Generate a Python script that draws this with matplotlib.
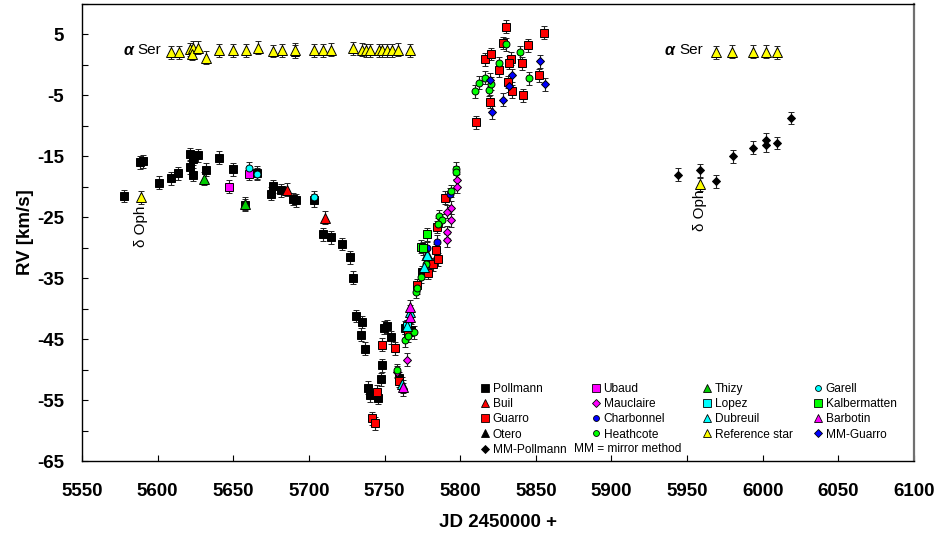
import matplotlib
matplotlib.use("Agg")
import matplotlib.pyplot as plt
from matplotlib.lines import Line2D
from matplotlib.legend import Legend
from matplotlib.ticker import MultipleLocator, FuncFormatter

plt.rcParams['font.family'] = ['Liberation Sans', 'DejaVu Sans']

# ---- data: JD - 2450000 and RV [km/s] per observer ----
pollmann_jd = [5577.8, 5588.4, 5590.6, 5601.0, 5609.0, 5613.8, 5621.1, 5621.5, 5623.3, 5623.1,
               5627.0, 5632.1, 5640.3, 5649.6, 5658.0, 5665.7, 5675.0, 5676.1, 5681.6, 5689.3,
               5691.3, 5703.7, 5709.2, 5714.7, 5721.6, 5727.1, 5729.1, 5731.3, 5734.8, 5734.4,
               5737.0, 5739.0, 5740.3, 5745.9, 5747.4, 5748.1, 5749.6, 5751.8, 5754.0, 5759.5,
               5763.3, 5767.3, 5775.0]
pollmann_rv = [-21.5, -16.0, -15.8, -19.3, -18.6, -17.8, -16.8, -14.6, -15.4, -18.0,
               -14.8, -17.2, -15.2, -17.1, -23.0, -17.7, -21.1, -19.9, -20.6, -22.0,
               -22.2, -22.2, -27.8, -28.3, -29.4, -31.6, -34.9, -41.2, -42.2, -44.3,
               -46.6, -53.0, -54.2, -54.6, -51.6, -49.3, -43.1, -42.9, -44.7, -51.4,
               -43.1, -43.5, -34.0]

buil_jd = [5685.6, 5710.5]
buil_rv = [-20.5, -25.1]

guarro_jd = [5744.8, 5741.4, 5743.4, 5748.5, 5756.7, 5759.5, 5765.5, 5771.7, 5779.0, 5782.3,
             5785.6, 5783.8, 5784.5, 5790.0, 5810.3, 5816.5, 5820.7, 5819.6, 5825.8, 5828.0,
             5830.2, 5833.5, 5832.4, 5831.8, 5834.2, 5840.6, 5844.6, 5841.3, 5852.3, 5855.6]
guarro_rv = [-53.6, -58.0, -58.8, -45.9, -46.5, -51.8, -43.8, -36.1, -34.1, -32.7,
             -31.9, -30.4, -26.6, -21.8, -9.4, 0.9, 1.8, -6.0, -0.9, 3.6,
             6.3, 1.0, 0.4, -2.8, -4.3, 0.3, 3.2, -5.0, -1.7, 5.3]

otero_jd = [5691.1]
otero_rv = [2.2]

mm_pollmann_jd = [5943.9, 5958.7, 5969.3, 5980.4, 5993.6, 6002.4, 6002.0, 6009.5, 6019.0]
mm_pollmann_rv = [-18.0, -17.3, -19.1, -15.0, -13.6, -12.3, -13.2, -12.8, -8.7]

ubaud_jd = [5647.4, 5660.2]
ubaud_rv = [-20.0, -17.9]

mauclaire_jd = [5758.4, 5762.2, 5765.1, 5798.2, 5798.2, 5793.8, 5791.6, 5793.8, 5791.6, 5791.1]
mauclaire_rv = [-50.4, -53.2, -48.4, -18.9, -20.0, -23.4, -24.1, -25.5, -27.4, -28.8]

charbonnel_jd = [5793.1, 5784.5, 5777.9]
charbonnel_rv = [-21.2, -29.0, -30.1]

heathcote_jd = [5758.4, 5763.5, 5765.5, 5769.5, 5770.6, 5771.3, 5774.4, 5777.2, 5786.0, 5788.3,
                5785.4, 5794.2, 5797.1, 5797.1, 5809.7, 5812.5, 5816.5, 5819.4, 5820.3, 5825.8,
                5830.2, 5839.5, 5845.2]
heathcote_rv = [-50.1, -45.2, -44.5, -43.9, -37.2, -36.6, -34.8, -32.6, -24.8, -25.5,
                -26.1, -20.7, -17.0, -17.6, -4.3, -2.9, -2.1, -4.1, -3.1, 0.3,
                3.4, 2.1, -2.2]

thizy_jd = [5630.4, 5658.0]
thizy_rv = [-18.7, -22.8]

lopez_jd = [5764.6]
lopez_rv = [-42.9]

dubreuil_jd = [5761.3, 5764.6, 5766.8, 5776.1, 5778.3, 5777.9]
dubreuil_rv = [-52.3, -42.9, -40.5, -33.1, -31.0, -31.2]

ref_jd = [5609.0, 5614.3, 5621.1, 5623.3, 5622.9, 5627.0, 5632.1, 5640.3, 5649.6, 5658.2,
          5666.1, 5676.3, 5682.3, 5691.1, 5703.7, 5709.2, 5714.5, 5729.3, 5735.3, 5737.5,
          5740.3, 5746.3, 5748.5, 5751.4, 5754.7, 5758.9, 5766.6,
          5968.9, 5979.9, 5993.6, 6002.4, 6009.5,
          5588.9, 5958.7]
ref_rv = [2.1, 2.1, 2.6, 2.8, 1.8, 2.8, 1.2, 2.4, 2.4, 2.4,
          2.8, 2.3, 2.4, 2.5, 2.4, 2.4, 2.5, 2.7, 2.5, 2.4,
          2.4, 2.4, 2.4, 2.4, 2.4, 2.5, 2.4,
          2.1, 2.2, 2.2, 2.2, 2.1,
          -21.7, -19.6]

garell_jd = [5660.2, 5665.7, 5703.2]
garell_rv = [-16.9, -17.9, -21.7]

kalbermatten_jd = [5777.9, 5774.4, 5775.7]
kalbermatten_rv = [-27.8, -29.8, -30.1]

barbotin_jd = [5766.8, 5766.8, 5762.5]
barbotin_rv = [-41.3, -39.7, -52.8]

mm_guarro_jd = [5819.8, 5820.9, 5828.0, 5832.0, 5834.6, 5852.5, 5856.0]
mm_guarro_rv = [-2.4, -7.8, -5.7, -3.4, -1.7, 0.6, -3.2]

RV_ERR = 1.05

# label, jd, rv, marker, colour, size
series = [
    ("Pollmann", pollmann_jd, pollmann_rv, 's', 'black', 6.2),
    ("Buil", buil_jd, buil_rv, '^', '#ff0000', 6.5),
    ("Guarro", guarro_jd, guarro_rv, 's', '#ff0000', 6.2),
    ("Otero", otero_jd, otero_rv, '^', 'black', 6.0),
    ("MM-Pollmann", mm_pollmann_jd, mm_pollmann_rv, 'D', 'black', 4.5),
    ("Ubaud", ubaud_jd, ubaud_rv, 's', '#ff00ff', 6.0),
    ("Mauclaire", mauclaire_jd, mauclaire_rv, 'D', '#ff00ff', 4.5),
    ("Charbonnel", charbonnel_jd, charbonnel_rv, 'o', '#0000ff', 5.0),
    ("Heathcote", heathcote_jd, heathcote_rv, 'o', '#00ff00', 5.0),
    ("Thizy", thizy_jd, thizy_rv, '^', '#00cc00', 6.5),
    ("Lopez", lopez_jd, lopez_rv, 's', '#00ffff', 6.0),
    ("Dubreuil", dubreuil_jd, dubreuil_rv, '^', '#00ffff', 6.5),
    ("Reference star", ref_jd, ref_rv, '^', '#ffff00', 6.5),
    ("Garell", garell_jd, garell_rv, 'o', '#00ffff', 5.0),
    ("Kalbermatten", kalbermatten_jd, kalbermatten_rv, 's', '#00ff00', 6.0),
    ("Barbotin", barbotin_jd, barbotin_rv, '^', '#ff00ff', 6.5),
    ("MM-Guarro", mm_guarro_jd, mm_guarro_rv, 'D', '#0000ff', 4.5),
]
# legend columns in the order of the reference
legend_columns = [
    ["Pollmann", "Buil", "Guarro", "Otero", "MM-Pollmann"],
    ["Ubaud", "Mauclaire", "Charbonnel", "Heathcote"],
    ["Thizy", "Lopez", "Dubreuil", "Reference star"],
    ["Garell", "Kalbermatten", "Barbotin", "MM-Guarro"],
]

fig = plt.figure(figsize=(9.4, 5.35), dpi=100)
ax = fig.add_axes([0.0872, 0.1383, 0.8851, 0.8542])

handles = {}
for label, jd, rv, mk, col, ms in series:
    ax.errorbar(jd, rv, yerr=RV_ERR, fmt=mk, color=col, markersize=ms,
                markeredgecolor='black', markeredgewidth=0.7,
                ecolor='#222222', elinewidth=0.8, capsize=2.5, capthick=0.8)
    handles[label] = Line2D([], [], linestyle='none', marker=mk, color=col,
                            markersize=ms * 0.85, markeredgecolor='black',
                            markeredgewidth=0.6)

# star labels
ax.text(5577.2, 2.4, "α", fontsize=11.5, style='italic', weight='bold', va='center')
ax.text(5586.4, 2.4, "Ser", fontsize=11, va='center')
ax.text(5934.9, 2.4, "α", fontsize=11.5, style='italic', weight='bold', va='center')
ax.text(5944.6, 2.4, "Ser", fontsize=11, va='center')
ax.text(ref_jd[-2], ref_rv[-2] - 1.4, "δ Oph", fontsize=11, rotation=90,
        ha='center', va='top')
ax.text(ref_jd[-1], ref_rv[-1] - 0.8, "δ Oph", fontsize=11, rotation=90,
        ha='center', va='top')

ax.set_xlim(5550, 6100)
ax.set_ylim(-65, 10)
ax.xaxis.set_major_locator(MultipleLocator(50))
ax.yaxis.set_major_locator(MultipleLocator(5))
ax.yaxis.set_major_formatter(FuncFormatter(
    lambda v, p: f"{v:.0f}" if round(v - 5) % 10 == 0 and v < 9 else ""))
ax.tick_params(direction='in', length=4.5, width=0.8, labelsize=13.5)
ax.tick_params(axis='x', pad=16)
ax.tick_params(axis='y', pad=13)
for t in ax.get_xticklabels() + ax.get_yticklabels():
    t.set_fontweight('bold')
for s in ax.spines.values():
    s.set_linewidth(1.0)
ax.spines['right'].set_color('#707070')
ax.spines['right'].set_linewidth(1.6)

ax.set_xlabel("JD 2450000 +", fontsize=13.5, weight='bold', labelpad=10)
ax.set_ylabel("RV [km/s]", fontsize=13.5, weight='bold', labelpad=2)

# legend laid out in four columns like the original
col_x = [0.4785, 0.6119, 0.7453, 0.8787]
for cx, names in zip(col_x, legend_columns):
    leg = Legend(ax, [handles[n] for n in names], names, loc='upper left',
                 bbox_to_anchor=(cx, 0.171), borderaxespad=0, borderpad=0,
                 frameon=False, fontsize=8.6, handlelength=0.8,
                 handletextpad=0.25, labelspacing=0.27)
    ax.add_artist(leg)
ax.text(0.5913, 0.026, "MM = mirror method", transform=ax.transAxes,
        fontsize=8.6, va='center')

fig.savefig("out.png", dpi=100)
